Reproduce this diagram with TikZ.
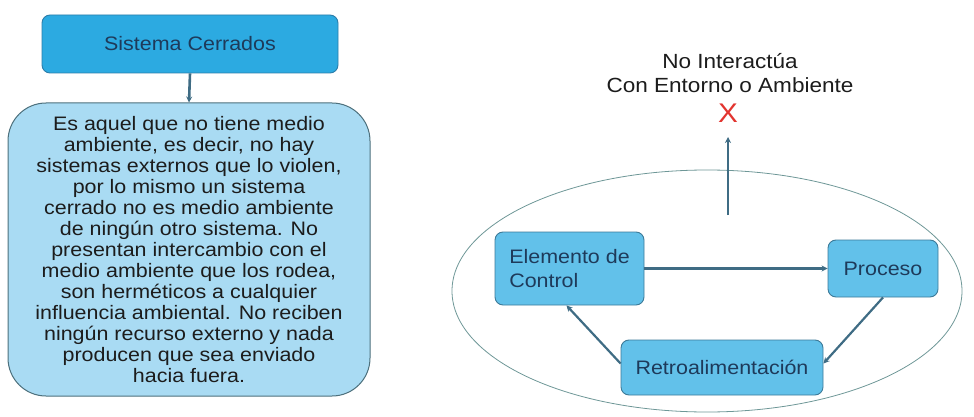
\documentclass[tikz,border=0pt]{standalone}
\usepackage{fontspec}
\setmainfont{Liberation Sans}[FakeStretch=1.1]
\usetikzlibrary{arrows.meta,calc,shapes.geometric}
\definecolor{topfill}{HTML}{2CAAE1}
\definecolor{topdraw}{HTML}{2B7DAA}
\definecolor{bigfill}{HTML}{A9DBF3}
\definecolor{bigdraw}{HTML}{4D707C}
\definecolor{nodefill}{HTML}{62C1EA}
\definecolor{nodedraw}{HTML}{3C7A98}
\definecolor{linecol}{HTML}{3F6C84}
\definecolor{ellcol}{HTML}{6E9797}
\definecolor{txtcol}{HTML}{1C1C1C}
\definecolor{navy}{HTML}{1E3A5A}
\definecolor{redx}{HTML}{E2342F}
\tikzset{
  conn/.style={draw=linecol, line width=2.2pt, -{Stealth[length=6pt,width=6pt]}},
  smallbox/.style={draw=nodedraw, fill=nodefill, rounded corners=8pt, line width=0.9pt,
    text=navy, font=\fontsize{19.5}{24}\selectfont, inner sep=0pt},
}
\begin{document}
\begin{tikzpicture}[x=1pt,y=-1pt]
\useasboundingbox (0,0) rectangle (974,417);
% left part
\node[draw=topdraw, fill=topfill, rounded corners=8pt, line width=0.9pt,
  minimum width=296pt, minimum height=58pt, inner sep=0pt,
  text=navy, font=\fontsize{19.5}{24}\selectfont] (title) at (190,44) {Sistema Cerrados};
\node[draw=bigdraw, fill=bigfill, rounded corners=38pt, line width=1pt,
  minimum width=362pt, minimum height=293pt, inner sep=0pt] (big) at (189,249.5) {};
\node[text=txtcol, align=center, inner sep=0pt,
  font=\fontsize{19.5}{21}\selectfont] (bigtext) at (189,250) {Es aquel que no tiene medio\\
ambiente, es decir, no hay\\
sistemas externos que lo violen,\\
por lo mismo un sistema\\
cerrado no es medio ambiente\\
de ningún otro sistema. No\\
presentan intercambio con el\\
medio ambiente que los rodea,\\
son herméticos a cualquier\\
influencia ambiental. No reciben\\
ningún recurso externo y nada\\
producen que sea enviado\\
hacia fuera.};
\draw[conn, line width=2.6pt] (title.south) -- (big.north);
% right part
\node[draw=ellcol, line width=0.8pt, ellipse, minimum width=510pt, minimum height=242pt, inner sep=0pt] (ell) at (707,291) {};
\node[text=txtcol, align=center, inner sep=0pt, font=\fontsize{20.5}{24.5}\selectfont] (noint) at (730,73) {No Interactúa\\Con Entorno o Ambiente};
\node[text=redx, inner sep=0pt, font=\fontsize{27}{27}\selectfont] (xmark) at (728,113) {X};
\coordinate (upstart) at (728,215);
\coordinate (upend) at (728,137);
\draw[conn] (upstart) -- (upend);
\node[smallbox, minimum width=149pt, minimum height=73pt, align=left] (elem) at (569.5,268.5) {Elemento de\\Control};
\node[smallbox, minimum width=110pt, minimum height=57pt] (proc) at (883,268.5) {Proceso};
\node[smallbox, minimum width=202pt, minimum height=55pt] (retro) at (722,367.5) {Retroalimentación};
\draw[conn] (elem) -- (proc);
\draw[conn] (proc.south) -- ([yshift=4pt]retro.east);
\draw[conn] ([yshift=4pt]retro.west) -- ([xshift=-3pt]elem.south);
\end{tikzpicture}
\end{document}
